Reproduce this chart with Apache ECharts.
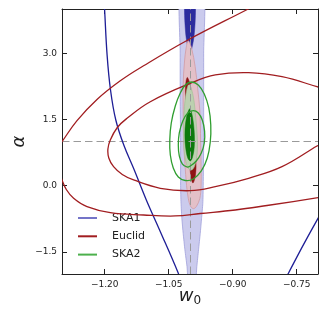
<!DOCTYPE html>
<html><head><meta charset="utf-8">
<script src="https://cdn.jsdelivr.net/npm/echarts@6/dist/echarts.min.js"></script>
<style>html,body{margin:0;padding:0;background:#fff}#c{width:328px;height:318px}</style>
</head><body><div id="c"></div>
<script>
// ---- axes / ticks ----
const xTicks = [-1.20, -1.05, -0.90, -0.75];
const xTickLabels = ['\u22121.20', '\u22121.05', '\u22120.90', '\u22120.75'];
const yTicks = [-1.5, 0.0, 1.5, 3.0];
const yTickLabels = ['\u22121.5', '0.0', '1.5', '3.0'];
const legendNames = ['SKA1', 'Euclid', 'SKA2'];
const fiducialW0 = -1.0;
const fiducialAlpha = 1.0;

// ---- SKA1 (open contour lines) ----
const ska1Left = [[-1.2009,4.09],[-1.2002,3.993],[-1.1943,2.959],[-1.1863,2.166],[-1.1739,1.487],[-1.1552,0.921],[-1.1306,0.355],[-1.1024,-0.324],[-1.0713,-1.003],[-1.0274,-1.984],[-1.0251,-2.09]];
const ska1Right = [[-0.688,-0.55],[-0.697,-0.69],[-0.734,-1.335],[-0.769,-1.976],[-0.772,-2.03]];
// ---- SKA1 filled contours ----
const ska1Band = [[-1.022,4.6],[-1.023,3.0],[-1.023,2.0],[-1.022,1.0],[-1.022,0.0],[-1.021,-0.4],[-1.019,-0.75],[-1.016,-1.08],[-1.012,-1.45],[-1.007,-1.83],[-1.003,-2.2],[-0.988,-2.2],[-0.984,-1.83],[-0.980,-1.45],[-0.976,-1.08],[-0.973,-0.75],[-0.970,-0.4],[-0.969,0.0],[-0.968,1.0],[-0.968,2.0],[-0.968,3.0],[-0.969,4.6]];
const ska1Core = [[-1.013,4.6],[-0.987,4.6],[-0.987,4.0],[-0.988,3.7],[-0.991,3.35],[-0.996,3.1],[-1.000,3.0],[-1.004,3.1],[-1.009,3.35],[-1.012,3.7],[-1.013,4.0]];

// ---- Euclid (open contour lines) ----
const euclidOuterUpper = [[-1.3087,0.876],[-1.300,0.996],[-1.2648,1.471],[-1.2180,1.951],[-1.1634,2.374],[-1.1088,2.714],[-1.0071,3.287],[-0.8704,3.966],[-0.8540,4.045]];
const euclidOuterLower = [[-1.3087,0.355],[-1.300,0.129],[-1.2899,-0.087],[-1.2728,-0.286],[-1.2414,-0.476],[-1.1868,-0.612],[-1.1088,-0.664],[-1.0345,-0.686],[-0.9759,-0.630],[-0.8939,-0.551],[-0.8196,-0.449],[-0.6970,-0.268],[-0.690,-0.256]];
const euclidInner = [[-0.690,0.966],[-0.7024,0.898],[-0.7844,0.430],[-0.8627,0.167],[-0.9407,-0.023],[-0.9993,-0.114],[-1.0696,-0.059],[-1.1322,0.129],[-1.1587,0.253],[-1.1791,0.430],[-1.1903,0.627],[-1.1924,0.830],[-1.1868,1.034],[-1.1704,1.317],[-1.1477,1.525],[-1.0931,1.901],[-0.9993,2.318],[-0.9407,2.506],[-0.8627,2.558],[-0.7844,2.467],[-0.7024,2.241],[-0.690,2.200]];
// ---- Euclid filled contours ----
const euclidFill2 = [[-1.004,3.28],[-0.996,3.10],[-0.988,2.70],[-0.982,2.20],[-0.977,1.70],[-0.975,1.00],[-0.974,0.40],[-0.974,0.00],[-0.977,-0.29],[-0.985,-0.47],[-0.992,-0.52],[-0.999,-0.46],[-1.004,-0.29],[-1.008,0.00],[-1.012,0.50],[-1.015,1.00],[-1.016,1.70],[-1.016,2.30],[-1.013,2.80],[-1.009,3.12]];
const euclidFill1 = [[-1.006,2.45],[-0.999,2.25],[-0.993,1.70],[-0.989,1.10],[-0.986,0.55],[-0.987,0.25],[-0.993,0.06],[-0.998,0.20],[-1.001,0.55],[-1.005,1.10],[-1.009,1.70],[-1.011,2.15],[-1.009,2.38]];

// ---- SKA2 (open contour loops) ----
const ska2Outer = [[-0.9970,2.347],[-0.9806,2.279],[-0.9665,2.076],[-0.9560,1.759],[-0.9513,1.375],[-0.9525,0.989],[-0.9595,0.627],[-0.9735,0.333],[-0.9923,0.151],[-1.0110,0.117],[-1.0274,0.197],[-1.0392,0.400],[-1.0461,0.694],[-1.0474,1.034],[-1.0439,1.419],[-1.0345,1.804],[-1.0228,2.098],[-1.0110,2.279]];
const ska2Inner = [[-0.9923,1.698],[-0.9806,1.646],[-0.9712,1.487],[-0.9658,1.238],[-0.9665,0.966],[-0.9735,0.740],[-0.9853,0.559],[-0.9993,0.446],[-1.0075,0.423],[-1.0181,0.491],[-1.0251,0.672],[-1.0274,0.921],[-1.0251,1.193],[-1.0169,1.464],[-1.0052,1.645]];
// ---- SKA2 filled contours ----
const ska2Fill2 = [[-1.002,2.30],[-0.993,2.05],[-0.987,1.60],[-0.983,1.10],[-0.983,0.75],[-0.988,0.48],[-0.995,0.36],[-1.003,0.38],[-1.010,0.55],[-1.014,0.85],[-1.015,1.30],[-1.013,1.80],[-1.008,2.15]];
const ska2Fill1 = [[-1.000,1.74],[-0.994,1.55],[-0.990,1.20],[-0.990,0.88],[-0.994,0.65],[-0.999,0.56],[-1.005,0.62],[-1.010,0.85],[-1.012,1.15],[-1.010,1.45],[-1.005,1.66]];

const FONT = 'DejaVu Sans';
const C_BLUE = '#1e1e96', C_RED = '#a11d20', C_GREEN = '#2f9e2f';

function shapeSeries(name, pts, fill, stroke, lw, z, closed, smooth) {
  return {
    type: 'custom', name: name, coordinateSystem: 'cartesian2d', xAxisIndex: 0, yAxisIndex: 0,
    z: z, silent: true, animation: false, data: pts,
    renderItem: function (params, api) {
      if (params.dataIndex !== 0) return null;
      const p = pts.map(function (d) { return api.coord(d); });
      const cs = params.coordSys;
      return {
        type: 'group',
        clipPath: { type: 'rect', shape: { x: cs.x, y: cs.y, width: cs.width, height: cs.height } },
        children: [{
          type: closed ? 'polygon' : 'polyline',
          shape: { points: p, smooth: smooth },
          style: { fill: closed ? fill : null, stroke: stroke, lineWidth: lw }
        }]
      };
    }
  };
}
function labelFor(ticks, labels) {
  return function (v) {
    let best = 0;
    for (let i = 1; i < ticks.length; i++) if (Math.abs(ticks[i] - v) < Math.abs(ticks[best] - v)) best = i;
    return labels[best];
  };
}

const axisCommon = {
  type: 'value', splitLine: { show: false },
  axisLine: { show: true, onZero: false, lineStyle: { color: '#222', width: 1 } },
  axisTick: { show: true, inside: true, length: 5, lineStyle: { color: '#222', width: 1 } }
};

const chart = echarts.init(document.getElementById('c'), null, { renderer: 'canvas' });
chart.setOption({
  animation: false,
  backgroundColor: '#fff',
  grid: { left: 62, top: 9, width: 256, height: 265, containLabel: false },
  xAxis: [
    Object.assign({}, axisCommon, {
      position: 'bottom', min: -1.30, max: -0.70,
      axisTick: Object.assign({}, axisCommon.axisTick, { customValues: xTicks }),
      axisLabel: { customValues: xTicks, formatter: labelFor(xTicks, xTickLabels), margin: 6,
        fontFamily: FONT, fontSize: 9, color: '#222' },
      name: '{w|w}{s|0}', nameLocation: 'middle', nameGap: 11, nameMoveOverlap: false,
      nameTextStyle: { rich: {
        w: { fontFamily: FONT, fontStyle: 'italic', fontSize: 18, color: '#222', lineHeight: 22, verticalAlign: 'middle' },
        s: { fontFamily: FONT, fontSize: 12, color: '#222', lineHeight: 22, verticalAlign: 'bottom' } } }
    }),
    Object.assign({}, axisCommon, {
      position: 'top', min: -1.30, max: -0.70,
      axisTick: Object.assign({}, axisCommon.axisTick, { customValues: xTicks }),
      axisLabel: { show: false }
    })
  ],
  yAxis: [
    Object.assign({}, axisCommon, {
      position: 'left', min: -2, max: 4,
      axisTick: Object.assign({}, axisCommon.axisTick, { customValues: yTicks }),
      axisLabel: { customValues: yTicks, formatter: labelFor(yTicks, yTickLabels), margin: 5,
        fontFamily: FONT, fontSize: 9, color: '#222' },
      name: '\u03b1', nameLocation: 'middle', nameGap: 34, nameRotate: 90, nameMoveOverlap: false,
      nameTextStyle: { fontFamily: FONT, fontStyle: 'italic', fontSize: 18, color: '#222' }
    }),
    Object.assign({}, axisCommon, {
      position: 'right', min: -2, max: 4,
      axisTick: Object.assign({}, axisCommon.axisTick, { customValues: yTicks }),
      axisLabel: { show: false }
    })
  ],
  legend: {
    data: [
      { name: legendNames[0], itemStyle: { color: '#7474c8' } },
      { name: legendNames[1], itemStyle: { color: '#a11d20' } },
      { name: legendNames[2], itemStyle: { color: '#4cb04c' } }
    ],
    icon: 'rect', itemWidth: 19, itemHeight: 2, orient: 'vertical', left: 78, top: 211,
    padding: 0, itemGap: 4.3, selectedMode: false,
    textStyle: { fontFamily: FONT, fontSize: 11, color: '#222', lineHeight: 14, padding: [0, 0, 0, 10] }
  },
  series: [
    shapeSeries('SKA1 band', ska1Band, '#cbcbed', '#a0a0da', 0.8, 1, true, 0.2),
    shapeSeries('SKA1 core', ska1Core, '#2c2c9e', '#2c2c9e', 0.5, 2, true, 0.3),
    shapeSeries('Euclid band', euclidFill2, '#e3c0c8', '#d19aa3', 0.8, 3, true, 0.35),
    shapeSeries('Euclid core', euclidFill1, '#8e1414', '#8e1414', 0.5, 3.5, true, 0.35),
    shapeSeries('SKA2 band', ska2Fill2, '#bcd0b0', '#9dbf90', 0.6, 4, true, 0.35),
    shapeSeries('SKA2 core', ska2Fill1, '#0c7a0c', '#0c7a0c', 0.5, 4.5, true, 0.35),
    {
      type: 'line', name: 'fiducial', data: [], silent: true, z: 5, animation: false,
      markLine: { silent: true, symbol: ['none', 'none'], label: { show: false }, animation: false,
        lineStyle: { color: '#9a9a9a', width: 1, type: [7.5, 4] },
        data: [{ xAxis: fiducialW0 }, { yAxis: fiducialAlpha }] }
    },
    shapeSeries('SKA1', ska1Left, null, C_BLUE, 1.3, 6, false, 0.4),
    shapeSeries('SKA1', ska1Right, null, C_BLUE, 1.3, 6, false, 0.4),
    shapeSeries('Euclid', euclidOuterUpper, null, C_RED, 1.3, 6, false, 0.4),
    shapeSeries('Euclid', euclidOuterLower, null, C_RED, 1.3, 6, false, 0.4),
    shapeSeries('Euclid', euclidInner, null, C_RED, 1.3, 6, false, 0.4),
    shapeSeries('SKA2', ska2Outer, 'none', C_GREEN, 1.3, 7, true, 0.4),
    shapeSeries('SKA2', ska2Inner, 'none', C_GREEN, 1.3, 7, true, 0.4)
  ]
});
</script></body></html>
